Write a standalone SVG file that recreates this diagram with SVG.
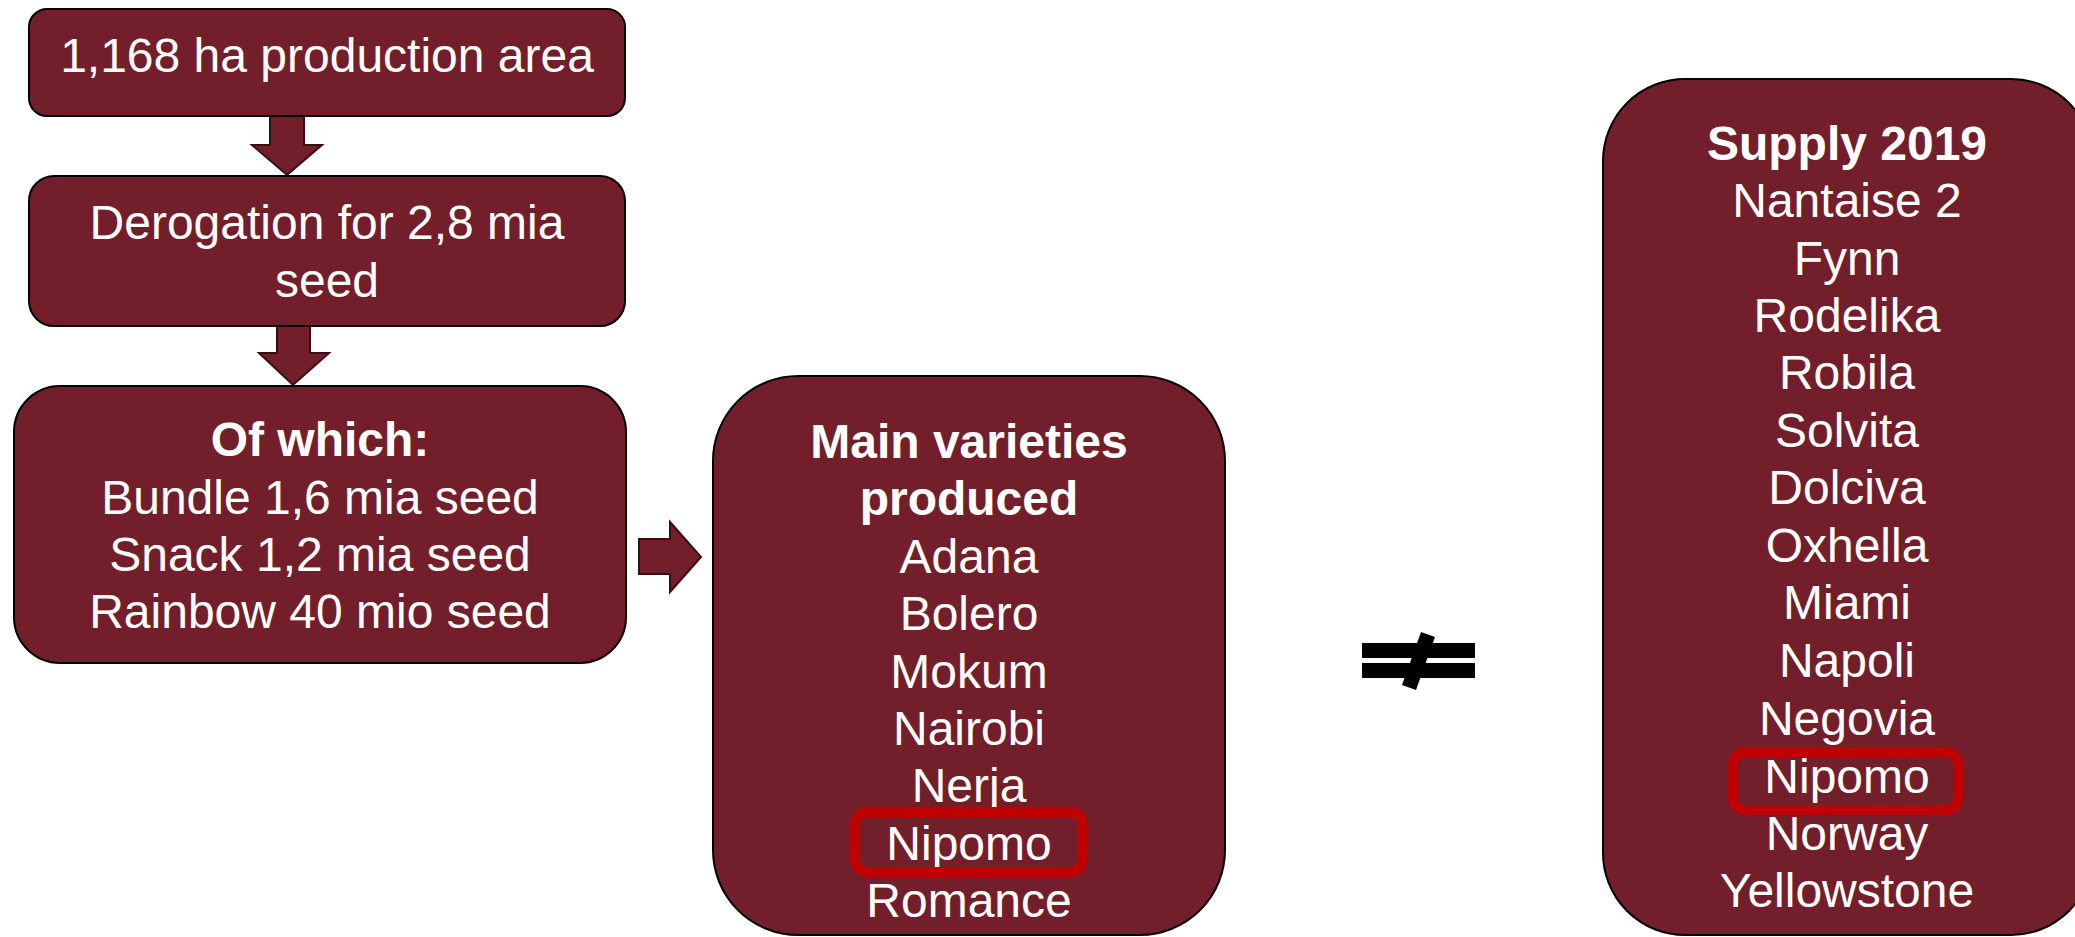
<svg xmlns="http://www.w3.org/2000/svg" width="2075" height="937" viewBox="0 0 2075 937">
<style>
.box{fill:#731F2B;stroke:#000;stroke-width:2}
.arr{fill:#731F2B;stroke:#3A0D12;stroke-width:2}
.hl{fill:none;stroke:#C00000;stroke-width:10}
text{font-family:"Liberation Sans",Arial,sans-serif;font-size:48px;fill:#fff;text-anchor:middle}
.b{font-weight:bold}
</style>
<rect width="2075" height="937" fill="#fff"/>
<g id="connectors">
<path class="arr" d="M270,116 H304 V145 H322 L287,175 L252,145 H270 Z"/>
<path class="arr" d="M277,326 H310 V353 H329 L293,385 L259,353 H277 Z"/>
<path class="arr" d="M639,539 H670 V522 L701,557 L670,592 V574 H639 Z"/>
</g>
<g id="area">
<rect class="box" x="29" y="9" width="596" height="107" rx="18"/>
<text x="327" y="72">1,168 ha production area</text>
</g>
<g id="derogation">
<rect class="box" x="29" y="176" width="596" height="150" rx="25"/>
<text x="327" y="239">Derogation for 2,8 mia</text>
<text x="327" y="297">seed</text>
</g>
<g id="ofwhich">
<rect class="box" x="14" y="386" width="612" height="277" rx="46"/>
<text class="b" x="320" y="456">Of which:</text>
<text x="320" y="514">Bundle 1,6 mia seed</text>
<text x="320" y="571">Snack 1,2 mia seed</text>
<text x="320" y="628">Rainbow 40 mio seed</text>
</g>
<g id="main">
<rect class="box" x="713" y="376" width="512" height="559" rx="85"/>
<text class="b" x="969" y="458">Main varieties</text>
<text class="b" x="969" y="515">produced</text>
<text x="969" y="573">Adana</text>
<text x="969" y="630">Bolero</text>
<text x="969" y="688">Mokum</text>
<text x="969" y="745">Nairobi</text>
<text x="969" y="802">Nerja</text>
<text x="969" y="860">Nipomo</text>
<text x="969" y="917">Romance</text>
<rect class="hl" x="855" y="812" width="227" height="60" rx="12"/>
</g>
<g id="notequal">
<rect x="1362" y="643" width="113" height="15" fill="#000"/>
<rect x="1362" y="663" width="113" height="15" fill="#000"/>
<polygon points="1421,632 1435,637 1416,690 1402,685" fill="#000"/>
</g>
<g id="supply">
<rect class="box" x="1603" y="79" width="490" height="856" rx="82"/>
<text class="b" x="1847" y="160">Supply 2019</text>
<text x="1847" y="217">Nantaise 2</text>
<text x="1847" y="275">Fynn</text>
<text x="1847" y="332">Rodelika</text>
<text x="1847" y="389">Robila</text>
<text x="1847" y="447">Solvita</text>
<text x="1847" y="504">Dolciva</text>
<text x="1847" y="562">Oxhella</text>
<text x="1847" y="619">Miami</text>
<text x="1847" y="677">Napoli</text>
<text x="1847" y="735">Negovia</text>
<text x="1847" y="793">Nipomo</text>
<text x="1847" y="850">Norway</text>
<text x="1847" y="907">Yellowstone</text>
<rect class="hl" x="1733" y="752" width="225" height="58" rx="12"/>
</g>
</svg>
